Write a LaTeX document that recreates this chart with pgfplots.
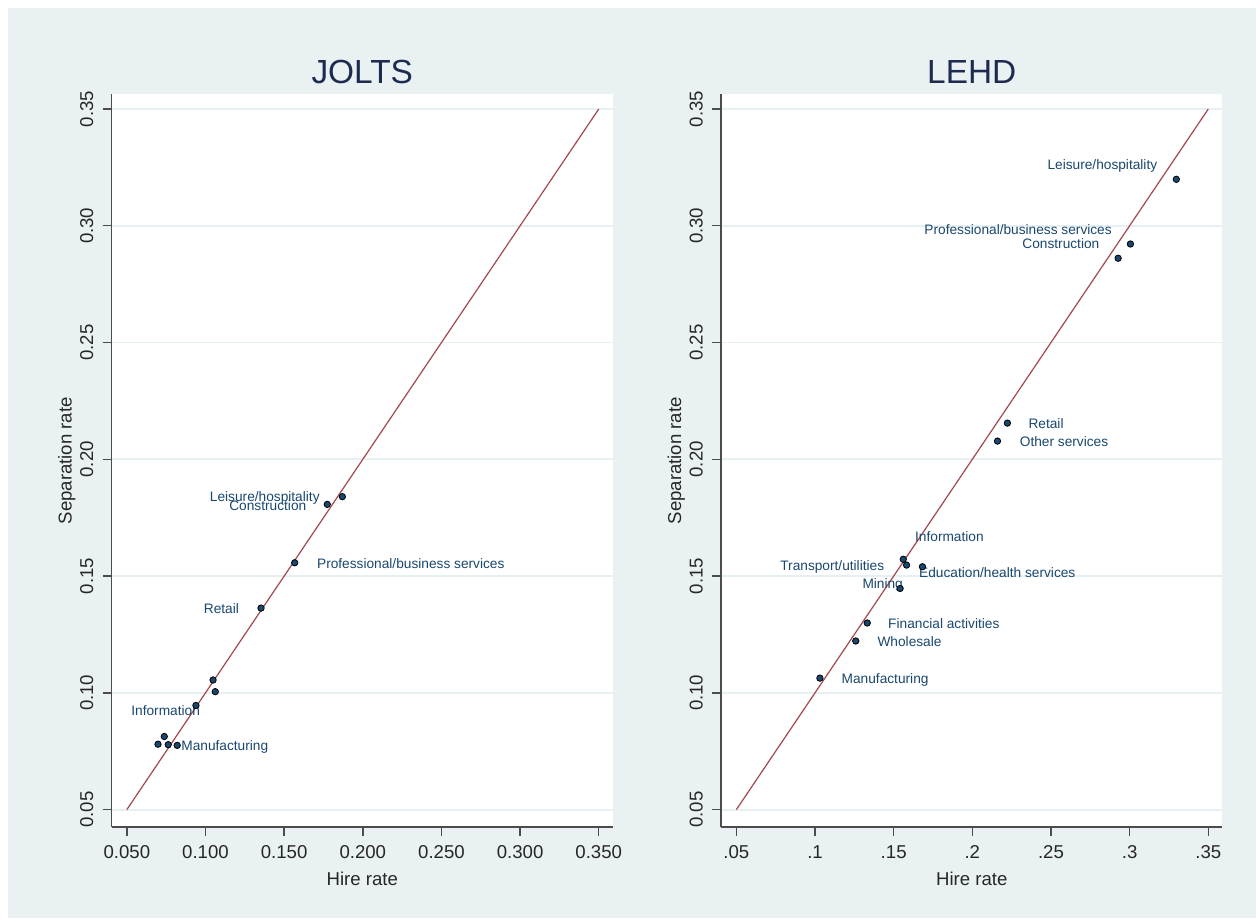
\documentclass[border=0pt]{standalone}
\usepackage{pgfplots}
\pgfplotsset{compat=1.18}
\usepackage{fontspec}
\setmainfont{Liberation Sans}
\definecolor{bg}{HTML}{EAF1F3}
\definecolor{gridc}{HTML}{E6EFF1}
\definecolor{navy}{HTML}{1A476F}
\definecolor{maroonl}{HTML}{A4484E}
\definecolor{ttl}{HTML}{1E2B50}
\tikzset{lab/.style={font=\fontsize{6.85}{8}\selectfont, text=navy, inner sep=0pt}}
\pgfplotsset{
  stata/.style={
    scale only axis, width=250.65pt, height=366.4pt,
    xmin=0.0403, xmax=0.359, ymin=0.0425, ymax=0.3563,
    axis lines=left,
    axis line style={-, draw=black!70, line width=0.7pt},
    tick align=outside, major tick length=4.5pt,
    tick style={draw=black!70, line width=0.7pt},
    xtick={0.05,0.1,0.15,0.2,0.25,0.3,0.35},
    ytick={0.05,0.1,0.15,0.2,0.25,0.3,0.35},
    minor tick num=0,
    ymajorgrids, major grid style={draw=gridc, line width=0.9pt},
    axis background/.style={fill=white},
    /pgf/number format/assume math mode=true,
    tick label style={font=\fontsize{9.3}{11}\selectfont, text=black!85, inner sep=0pt},
    xticklabel style={anchor=north, yshift=-4.4pt},
    yticklabel style={rotate=90, anchor=south, yshift=4.5pt},
    yticklabel={\pgfmathprintnumber[fixed, fixed zerofill, precision=2]{\tick}},
    xlabel={Hire rate}, ylabel={Separation rate},
    label style={font=\fontsize{9.3}{11}\selectfont, text=black!85, inner sep=0pt},
    xlabel style={at={(axis description cs:0.5,0)}, anchor=base, yshift=-29.1pt},
    ylabel style={at={(axis description cs:0,0.5)}, anchor=base, yshift=20pt},
    title style={font=\fontsize{16.7}{19}\selectfont, text=ttl, at={(0.5,1)}, anchor=base, yshift=-0.5pt, inner sep=0pt},
    clip=false,
  },
  dots/.style={only marks, mark=*, mark size=1.6pt, mark options={fill=navy, draw=none}},
}
\begin{document}
\begin{tikzpicture}
\fill[white] (-55.8pt,-45.45pt) rectangle (572.2pt,413.55pt);
\fill[bg] (-51.8pt,-45.45pt) rectangle (572.2pt,409.55pt);
% ---------------- JOLTS ----------------
\begin{axis}[stata, at={(0pt,0pt)}, anchor=south west, title={JOLTS},
  xticklabel={\pgfmathprintnumber[fixed, fixed zerofill, precision=3]{\tick}}]
\addplot[maroonl, line width=0.6pt] coordinates {(0.05,0.05) (0.35,0.35)};
\addplot[dots] coordinates {
(0.187,0.184) (0.1774,0.1807) (0.1567,0.1557) (0.1353,0.1363)
(0.1048,0.1055) (0.1062,0.1005) (0.0939,0.0946) (0.0738,0.0813)
(0.0698,0.0780) (0.0763,0.0778) (0.082,0.0775)};
\node[lab, anchor=base east] at (axis cs:0.1728,0.1819) {Leisure/hospitality};
\node[lab, anchor=base east] at (axis cs:0.1643,0.1782) {Construction};
\node[lab, anchor=base west] at (axis cs:0.1707,0.1533) {Professional/business services};
\node[lab, anchor=base east] at (axis cs:0.1215,0.1341) {Retail};
\node[lab, anchor=base west] at (axis cs:0.0526,0.0905) {Information};
\node[lab, anchor=base west] at (axis cs:0.0844,0.0754) {Manufacturing};
\end{axis}
% ---------------- LEHD ----------------
\begin{axis}[stata, at={(304.75pt,0pt)}, anchor=south west, title={LEHD},
  xticklabels={.05,.1,.15,.2,.25,.3,.35}]
\addplot[maroonl, line width=0.6pt] coordinates {(0.05,0.05) (0.35,0.35)};
\addplot[dots] coordinates {
(0.3297,0.3199) (0.3005,0.2922) (0.2927,0.2861) (0.2223,0.2155) (0.216,0.2078)
(0.1561,0.1572) (0.1582,0.1547) (0.1683,0.154) (0.1541,0.1447)
(0.1332,0.1299) (0.1259,0.1222) (0.1031,0.1063)};
\node[lab, anchor=base east] at (axis cs:0.3178,0.3243) {Leisure/hospitality};
\node[lab, anchor=base east] at (axis cs:0.2889,0.2964) {Professional/business services};
\node[lab, anchor=base east] at (axis cs:0.281,0.2902) {Construction};
\node[lab, anchor=base west] at (axis cs:0.2355,0.2133) {Retail};
\node[lab, anchor=base west] at (axis cs:0.23,0.2053) {Other services};
\node[lab, anchor=base west] at (axis cs:0.1634,0.1647) {Information};
\node[lab, anchor=base east] at (axis cs:0.1442,0.1525) {Transport/utilities};
\node[lab, anchor=base west] at (axis cs:0.166,0.1493) {Education/health services};
\node[lab, anchor=base east] at (axis cs:0.1561,0.1448) {Mining};
\node[lab, anchor=base west] at (axis cs:0.1463,0.1275) {Financial activities};
\node[lab, anchor=base west] at (axis cs:0.1395,0.1198) {Wholesale};
\node[lab, anchor=base west] at (axis cs:0.1167,0.1038) {Manufacturing};
\end{axis}
\end{tikzpicture}
\end{document}
